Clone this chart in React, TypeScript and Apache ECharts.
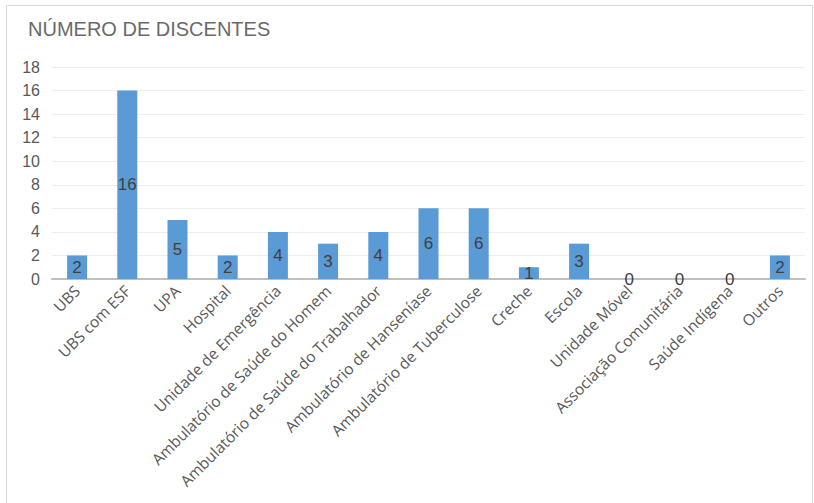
import React, { useEffect, useRef } from "react";
import * as echarts from "echarts";

const categories = [
  "UBS",
  "UBS com ESF",
  "UPA",
  "Hospital",
  "Unidade de Emergência",
  "Ambulatório de Saúde do Homem",
  "Ambulatório de Saúde do Trabalhador",
  "Ambulatório de Hanseníase",
  "Ambulatório de Tuberculose",
  "Creche",
  "Escola",
  "Unidade Móvel",
  "Associação Comunitária",
  "Saúde Indígena",
  "Outros",
];
const values = [2, 16, 5, 2, 4, 3, 4, 6, 6, 1, 3, 0, 0, 0, 2];
const titleText = "NÚMERO DE DISCENTES";

export default function App() {
  const ref = useRef<HTMLDivElement>(null);
  useEffect(() => {
    if (!ref.current) return;
    const chart = echarts.init(ref.current, undefined, { renderer: "svg" });
    chart.setOption({
      animation: false,
      backgroundColor: "#ffffff",
      title: {
        text: titleText,
        left: 23,
        top: 14,
        textStyle: {
          fontFamily: "Liberation Sans, Arial, sans-serif",
          fontSize: 20,
          fontWeight: "normal",
          color: "#6a6a6a",
        },
      },
      graphic: [
        {
          type: "rect",
          shape: { x: 6.5, y: 5.5, width: 806, height: 510 },
          style: { fill: "none", stroke: "#d9d9d9", lineWidth: 1 },
          silent: true,
        },
      ],
      grid: { left: 52, right: 9, top: 67, bottom: 224, containLabel: false },
      xAxis: {
        type: "category",
        data: categories,
        axisLine: { lineStyle: { color: "#bfbfbf", width: 2 } },
        axisTick: { show: false },
        axisLabel: {
          rotate: 45,
          interval: 0,
          margin: 9,
          color: "#595959",
          fontSize: 15.5,
          fontFamily: "Open Sans, sans-serif",
        },
      },
      yAxis: {
        type: "value",
        min: 0,
        max: 18,
        interval: 2,
        axisLine: { show: false },
        axisTick: { show: false },
        splitLine: { lineStyle: { color: "#eeeeee", width: 1 } },
        axisLabel: {
          color: "#595959",
          fontSize: 16,
          margin: 12,
          fontFamily: "Liberation Sans, Arial, sans-serif",
        },
      },
      series: [
        {
          type: "bar",
          data: values,
          barWidth: 20,
          itemStyle: { color: "#5b9bd5" },
          label: {
            show: true,
            position: "inside",
            color: "#404040",
            fontSize: 17,
            fontFamily: "Liberation Sans, Arial, sans-serif",
          },
        },
      ],
    });
    return () => chart.dispose();
  }, []);
  return (
    <div
      ref={ref}
      style={{ position: "fixed", left: 0, top: 0, width: 814, height: 503 }}
    />
  );
}
